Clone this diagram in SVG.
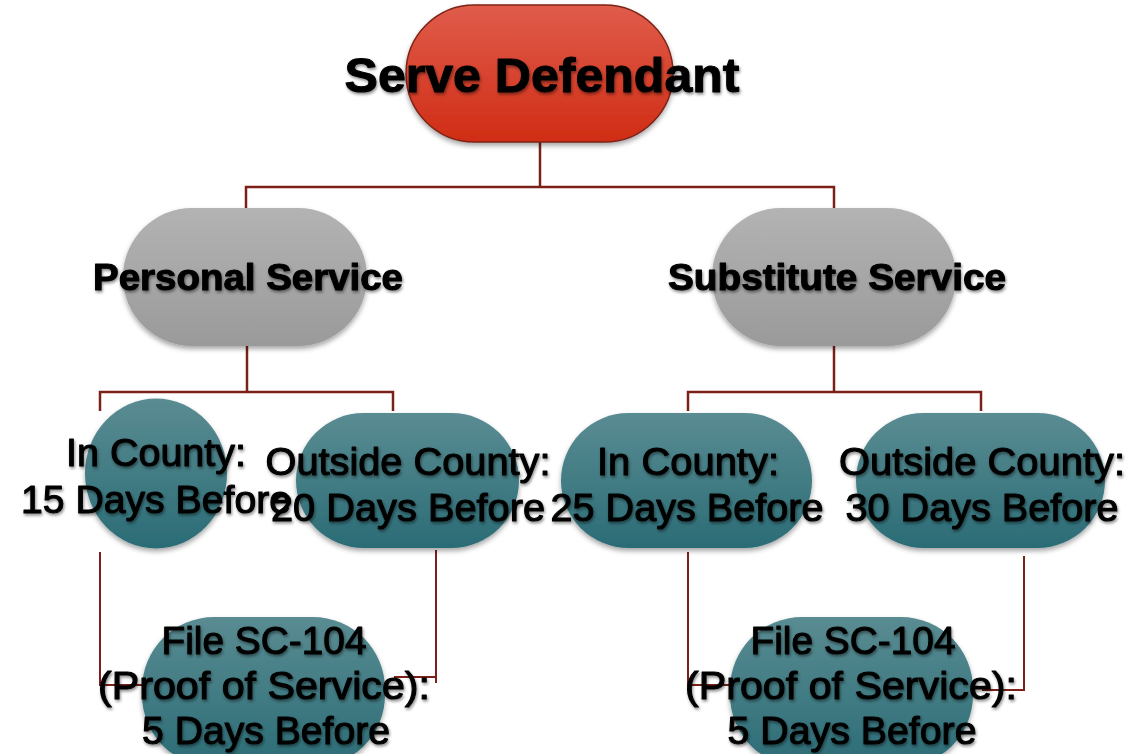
<svg xmlns="http://www.w3.org/2000/svg" width="1134" height="754" viewBox="0 0 1134 754">
<defs>
<linearGradient id="gRed" x1="0" y1="0" x2="0" y2="1"><stop offset="0" stop-color="#e05c4b"/><stop offset="1" stop-color="#d02d15"/></linearGradient>
<linearGradient id="gGray" x1="0" y1="0" x2="0" y2="1"><stop offset="0" stop-color="#b3b3b3"/><stop offset="1" stop-color="#9a9a9a"/></linearGradient>
<linearGradient id="gTeal" x1="0" y1="0" x2="0" y2="1"><stop offset="0" stop-color="#5a8c92"/><stop offset="1" stop-color="#2b6c76"/></linearGradient>
<filter id="shNode" x="-10%" y="-10%" width="120%" height="130%"><feDropShadow dx="0" dy="3" stdDeviation="2.5" flood-color="#000" flood-opacity="0.35"/></filter>
<filter id="shText" x="-10%" y="-20%" width="120%" height="150%"><feDropShadow dx="1" dy="2" stdDeviation="1.5" flood-color="#000" flood-opacity="0.45"/></filter>
</defs>
<style>
.conn{fill:none;stroke:#7b2119;stroke-width:2.5}
.conn2{fill:none;stroke:#7b2119;stroke-width:2}
.title{font-family:"Liberation Sans",Arial,sans-serif;font-weight:bold;fill:#000;stroke:#000;stroke-width:1;stroke-linejoin:round;text-anchor:middle;filter:url(#shText)}
.lbl{font-family:"Liberation Sans",Arial,sans-serif;font-size:39px;fill:#000;stroke:#000;stroke-width:1.1;stroke-linejoin:round;text-anchor:middle;filter:url(#shText)}
.red{fill:url(#gRed);stroke:#7d2315;stroke-width:1.5;filter:url(#shNode)}
.gray{fill:url(#gGray);filter:url(#shNode)}
.teal{fill:url(#gTeal);filter:url(#shNode)}
</style>
<rect width="1134" height="754" fill="#fff"/>
<g id="connectors">
<path class="conn" d="M540,142 V187"/>
<path class="conn" d="M246,208 V187 H834 V208"/>
<path class="conn" d="M247,346 V392"/>
<path class="conn" d="M100,411 V392 H393 V411"/>
<path class="conn" d="M834,346 V392"/>
<path class="conn" d="M688,411 V392 H981 V411"/>
<path class="conn2" d="M100,552 V685 H147"/>
<path class="conn2" d="M436,550 V683"/>
<path class="conn2" d="M394,677 H436"/>
<path class="conn2" d="M688,552 V685 H730"/>
<path class="conn2" d="M1024,556 V690 H982"/>
</g>
<g id="serve-defendant">
<rect class="red" x="406" y="5" width="267" height="137" rx="68.5"/>
<text class="title" x="542" y="92" font-size="48" textLength="395" lengthAdjust="spacingAndGlyphs">Serve Defendant</text>
</g>
<g id="personal-service">
<rect class="gray" x="123" y="208" width="244" height="138" rx="69"/>
<text class="title" x="248" y="290" font-size="36" textLength="310" lengthAdjust="spacingAndGlyphs">Personal Service</text>
</g>
<g id="substitute-service">
<rect class="gray" x="712" y="208" width="244" height="138" rx="69"/>
<text class="title" x="837" y="290" font-size="36" textLength="338" lengthAdjust="spacingAndGlyphs">Substitute Service</text>
</g>
<g id="outside-county-left">
<rect class="teal" x="296" y="413" width="223" height="135" rx="67.5"/>
<text class="lbl" x="408" y="475" textLength="285" lengthAdjust="spacingAndGlyphs">Outside County:</text>
<text class="lbl" x="408" y="521" textLength="274" lengthAdjust="spacingAndGlyphs">20 Days Before</text>
</g>
<g id="in-county-left">
<ellipse class="teal" cx="156" cy="473.5" rx="71" ry="75"/>
<text class="lbl" x="156" y="466" textLength="180" lengthAdjust="spacingAndGlyphs">In County:</text>
<text class="lbl" x="156" y="513" textLength="270" lengthAdjust="spacingAndGlyphs">15 Days Before</text>
</g>
<g id="in-county-right">
<rect class="teal" x="561" y="413" width="251" height="135" rx="67.5"/>
<text class="lbl" x="688" y="475" textLength="182" lengthAdjust="spacingAndGlyphs">In County:</text>
<text class="lbl" x="687" y="521" textLength="273" lengthAdjust="spacingAndGlyphs">25 Days Before</text>
</g>
<g id="outside-county-right">
<rect class="teal" x="856" y="413" width="249" height="135" rx="67.5"/>
<text class="lbl" x="982" y="475" textLength="286" lengthAdjust="spacingAndGlyphs">Outside County:</text>
<text class="lbl" x="982" y="521" textLength="273" lengthAdjust="spacingAndGlyphs">30 Days Before</text>
</g>
<g id="file-sc104-left">
<rect class="teal" x="142" y="617" width="243" height="150" rx="72"/>
<text class="lbl" x="264" y="654" textLength="205" lengthAdjust="spacingAndGlyphs">File SC-104</text>
<text class="lbl" x="264" y="699" textLength="332" lengthAdjust="spacingAndGlyphs">(Proof of Service):</text>
<text class="lbl" x="266" y="744" textLength="248" lengthAdjust="spacingAndGlyphs">5 Days Before</text>
</g>
<g id="file-sc104-right">
<rect class="teal" x="730" y="617" width="243" height="150" rx="72"/>
<text class="lbl" x="853" y="654" textLength="205" lengthAdjust="spacingAndGlyphs">File SC-104</text>
<text class="lbl" x="851" y="699" textLength="332" lengthAdjust="spacingAndGlyphs">(Proof of Service):</text>
<text class="lbl" x="852" y="744" textLength="249" lengthAdjust="spacingAndGlyphs">5 Days Before</text>
</g>
</svg>
